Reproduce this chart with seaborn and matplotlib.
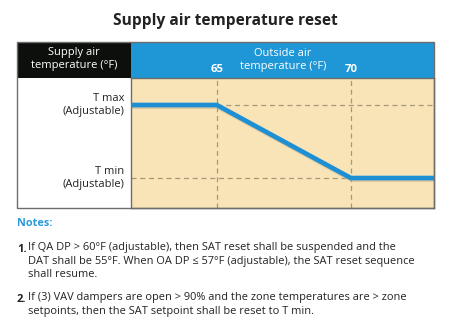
import matplotlib
matplotlib.use("Agg")
import matplotlib.pyplot as plt
import seaborn as sns
import pandas as pd
from matplotlib.patches import Rectangle
import matplotlib.transforms as mtrans

# ---- data ----
oat = [61.8, 65, 70, 73.1]          # outside air temperature (°F)
sat = [1, 1, 0, 0]                  # supply air temp (1 = T max, 0 = T min)
x_ticks = [65, 70]
x_tick_labels = ["65", "70"]
y_levels = [1, 0]
y_labels = ["T max\n(Adjustable)", "T min\n(Adjustable)"]
title = "Supply air temperature reset"
left_header = "Supply air\ntemperature (°F)"
right_header = "Outside air\ntemperature (°F)"
notes_title = "Notes:"
notes = [
    ("1.", "If QA DP > 60°F (adjustable), then SAT reset shall be suspended and the\nDAT shall be 55°F. When OA DP ≤ 57°F (adjustable), the SAT reset sequence\nshall resume."),
    ("2.", "If (3) VAV dampers are open > 90% and the zone temperatures are > zone\nsetpoints, then the SAT setpoint shall be reset to T min."),
]

df = pd.DataFrame({"oat": oat, "sat": sat})

sns.set_style("white")
plt.rcParams["font.family"] = ["Open Sans", "DejaVu Sans"]

W, H = 450, 329
fig = plt.figure(figsize=(W / 100, H / 100), dpi=100)
fig.patch.set_facecolor("white")

def fx(px):
    return px / W

def fy(py):
    return 1 - py / H

BLUE_HDR = "#1f97d6"
BLACK_HDR = "#0d0f0c"
BEIGE = "#f9e4b7"
LINE_BLUE = "#1e8fd2"
DASH = "#a8987a"
BORDER = "#6d6d6d"

L, R, T, HB, B, MID = 17, 434, 42, 78, 208, 131

# header cells
fig.add_artist(Rectangle((fx(L), fy(HB)), fx(MID - L), fy(T) - fy(HB),
                         transform=fig.transFigure, facecolor=BLACK_HDR, edgecolor="none", zorder=0))
fig.add_artist(Rectangle((fx(MID), fy(HB)), fx(R - MID), fy(T) - fy(HB),
                         transform=fig.transFigure, facecolor=BLUE_HDR, edgecolor="none", zorder=0))
# outer border
fig.add_artist(Rectangle((fx(L), fy(B)), fx(R - L), fy(T) - fy(B),
                         transform=fig.transFigure, facecolor="none", edgecolor=BORDER, lw=1.0, zorder=5))

# plot axes
ax = fig.add_axes([fx(MID), fy(B), fx(R - MID), fy(HB) - fy(B)])
ax.set_zorder(3)
ax.set_facecolor(BEIGE)
ax.set_xlim(oat[0], oat[-1])
ax.set_ylim(-0.41, 1.37)

# dashed guides
for xv in x_ticks:
    ax.axvline(xv, color=DASH, lw=0.9, ls=(0, (4, 3)), zorder=1)
ax.plot([x_ticks[0], oat[-1]], [y_levels[0]] * 2, color=DASH, lw=0.9, ls=(0, (4, 3)), zorder=1)
ax.plot([oat[0], x_ticks[1]], [y_levels[1]] * 2, color=DASH, lw=0.9, ls=(0, (4, 3)), zorder=1)

# shadow + line
shadow_tr = ax.transData + mtrans.ScaledTranslation(0.6 / 72, -1.2 / 72, fig.dpi_scale_trans)
sns.lineplot(data=df, x="oat", y="sat", ax=ax, color="#c9b48e", lw=3.4, alpha=0.5,
             zorder=2, transform=shadow_tr)
sns.lineplot(data=df, x="oat", y="sat", ax=ax, color=LINE_BLUE, lw=3.4, zorder=3,
             solid_joinstyle="miter")

ax.set_xlabel("")
ax.set_ylabel("")
ax.set_xticks([])
ax.set_yticks([])
for s in ax.spines.values():
    s.set_color(BORDER)
    s.set_linewidth(1.0)

# y labels
for yv, lab in zip(y_levels, y_labels):
    ax.annotate(lab, xy=(0, yv), xycoords=("axes fraction", "data"),
                xytext=(-5, 0), textcoords="offset points", annotation_clip=False,
                ha="right", va="center", fontsize=8.0, color="#222222", linespacing=1.3)

# x tick labels in header
for xv, lab in zip(x_ticks, x_tick_labels):
    ax.annotate(lab, xy=(xv, 1), xycoords=("data", "axes fraction"),
                xytext=(0, 6.0), textcoords="offset points", annotation_clip=False,
                ha="center", va="center", fontsize=8.2, color="white", fontweight="bold")

# header texts
fig.text(fx(74), fy(59), left_header, ha="center", va="center", color="white",
         fontsize=8.0, linespacing=1.2)
fig.text(fx(283), fy(60), right_header, ha="center", va="center", color="white",
         fontsize=8.0, linespacing=1.2)

# title
fig.text(fx(225), fy(21), title, ha="center", va="center", fontsize=11.2,
         fontweight="bold", color="#222222")

# notes
fig.text(fx(17), fy(224), notes_title, ha="left", va="center", fontsize=7.8,
         fontweight="bold", color="#2a9ad8")
note_y = [249, 299]
for (num, txt), ny in zip(notes, note_y):
    fig.text(fx(17), fy(ny), num, ha="left", va="center", fontsize=8.0,
             fontweight="bold", color="#222222")
    fig.text(fx(28), fy(ny - 7), txt, ha="left", va="top", fontsize=7.9,
             color="#222222", linespacing=1.32)

fig.savefig("out.png", dpi=100, facecolor="white")
